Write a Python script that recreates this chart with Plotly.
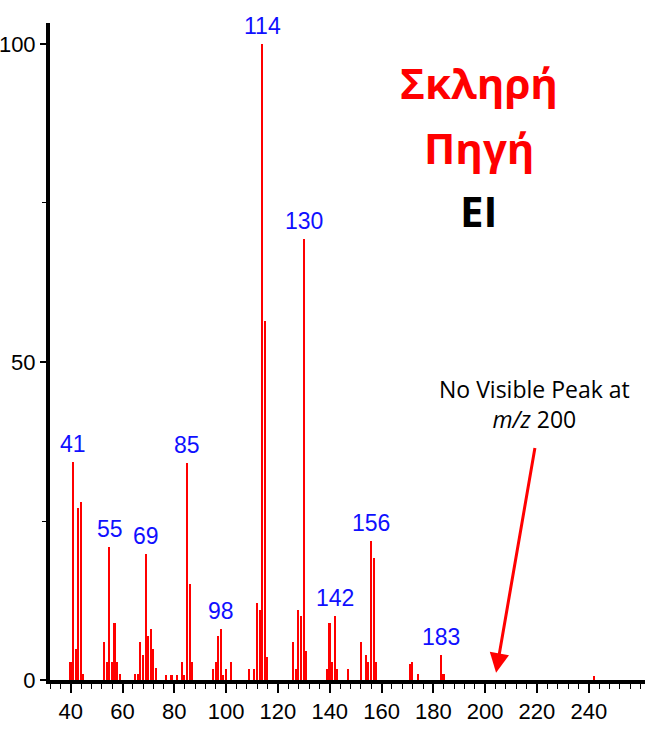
import plotly.graph_objects as go

# m/z values of the spectrum lines
mz = [40, 41, 42, 43, 44, 45, 53, 54, 55, 56, 57, 58, 59,
      65, 66, 67, 68, 69, 70, 71, 72, 73, 77, 79, 81, 83, 84, 85, 86, 87,
      95, 96, 97, 98, 99, 100, 102, 109, 111, 112, 113, 114, 115, 116,
      126, 127, 128, 129, 130, 131, 139, 140, 141, 142, 143, 147,
      152, 154, 155, 156, 157, 158, 171, 172, 174, 183, 184, 242]
# relative intensities (%)
intensity = [2.8, 34.2, 4.9, 27.1, 28.0, 0.9, 6.0, 2.8, 20.9, 2.8, 9.0, 2.8, 0.9,
             0.9, 0.9, 6.0, 3.9, 19.8, 6.9, 8.0, 4.9, 1.9, 0.8, 0.8, 0.8, 2.9, 0.8, 34.1, 15.1, 2.9,
             1.8, 2.9, 6.9, 8.0, 0.8, 1.8, 2.9, 1.8, 1.8, 12.1, 11.0, 100.0, 56.5, 3.6,
             6.0, 1.8, 11.0, 10.0, 69.3, 4.6, 1.8, 9.0, 2.9, 10.0, 1.8, 1.8,
             6.0, 3.9, 2.9, 21.9, 19.2, 2.9, 2.5, 2.9, 0.9, 3.9, 0.9, 0.7]
# labelled peaks
labelled_peaks = [41, 55, 69, 85, 98, 114, 130, 142, 156, 183]

x_ticks = [40, 60, 80, 100, 120, 140, 160, 180, 200, 220, 240]
y_ticks = [0, 50, 100]
y_minor = [25, 75]

narrow = "Liberation Sans Narrow, Liberation Sans, Arial, sans-serif"

fig = go.Figure()
fig.add_trace(go.Bar(x=mz, y=intensity, width=0.6,
                     marker=dict(color="#ff0000", line=dict(width=0)),
                     hoverinfo="x+y"))

annotations = []
lookup = dict(zip(mz, intensity))
for p in labelled_peaks:
    annotations.append(dict(x=p, y=lookup[p], xref="x", yref="y", text=str(p),
                            showarrow=False, yanchor="bottom", yshift=3,
                            font=dict(family=narrow, size=23, color="#1010ff")))

# Title texts
annotations.append(dict(x=0.721, y=0.909, xref="paper", yref="paper", text="Σκληρή",
                        showarrow=False, xanchor="center", yanchor="middle",
                        font=dict(family="Open Sans", size=42, color="#ff0000", weight="bold")))
annotations.append(dict(x=0.721, y=0.8105, xref="paper", yref="paper", text="Πηγή",
                        showarrow=False, xanchor="center", yanchor="middle",
                        font=dict(family="Open Sans", size=42, color="#ff0000", weight="bold")))
annotations.append(dict(x=0.721, y=0.7146, xref="paper", yref="paper", text="EI",
                        showarrow=False, xanchor="center", yanchor="middle",
                        font=dict(family="Open Sans", size=42, color="#000000", weight="bold")))
annotations.append(dict(x=0.815, y=0.42, xref="paper", yref="paper",
                        text="No Visible Peak at<br><i>m/z</i> 200",
                        showarrow=False, xanchor="center", yanchor="middle",
                        font=dict(family="Open Sans", size=23, color="#000000")))
# Arrow
annotations.append(dict(x=204.2, y=1.15, xref="x", yref="y",
                        ax=219.3, ay=36.7, axref="x", ayref="y",
                        text="", showarrow=True, arrowhead=2, arrowsize=1.3,
                        arrowwidth=3, arrowcolor="#ff0000", standoff=0))

fig.update_layout(
    width=648, height=729,
    margin=dict(l=50, r=3, t=23, b=49, autoexpand=False),
    paper_bgcolor="white", plot_bgcolor="white",
    showlegend=False, bargap=0,
    annotations=annotations,
    xaxis=dict(range=[32, 261.7], tickmode="array", tickvals=x_ticks,
               ticks="outside", ticklen=9, tickwidth=1.5, tickcolor="black",
               minor=dict(dtick=4, tick0=0, ticks="outside", ticklen=5, tickwidth=1.2, tickcolor="black"),
               showline=True, linewidth=4, linecolor="black",
               showgrid=False, zeroline=False, automargin=False,
               tickfont=dict(family=narrow, size=22, color="black")),
    yaxis=dict(range=[0, 103.3], tickmode="array", tickvals=y_ticks,
               ticks="outside", ticklen=6, tickwidth=1.5, tickcolor="black",
               minor=dict(tickvals=y_minor, ticks="outside", ticklen=4, tickwidth=1.2, tickcolor="black"),
               showline=True, linewidth=4, linecolor="black",
               showgrid=False, zeroline=False, automargin=False,
               tickfont=dict(family=narrow, size=22, color="black")),
)

fig.write_html("out.html", config={"displayModeBar": False},
               post_script="document.body.style.margin='0px';document.body.style.overflow='hidden';")
